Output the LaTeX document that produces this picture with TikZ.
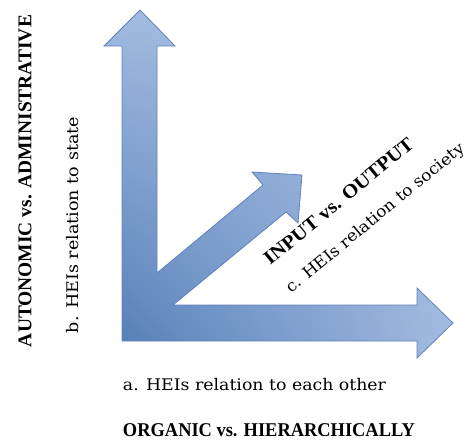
\documentclass[tikz,border=0pt]{standalone}
\usepackage{fontspec}
\usepackage{graphicx}
\setmainfont{Liberation Serif}
\newfontfamily\regfont{DejaVu Serif}
\usetikzlibrary{shadings}
\newcommand{\fitw}[2]{\resizebox{#1}{\height}{#2}}
\begin{document}
\begin{tikzpicture}[x=1pt,y=-1pt,
  lbl/.style={inner sep=0pt, font=\regfont\fontsize{16}{19}\selectfont},
  blbl/.style={inner sep=0pt, font=\fontsize{19.5}{23}\selectfont\bfseries}]
\definecolor{adark}{RGB}{79,122,181}
\definecolor{alight}{RGB}{163,187,224}
\definecolor{aline}{RGB}{96,130,190}
\useasboundingbox (0,0) rectangle (467,440);
\shadedraw[draw=aline, line width=0.8pt, line join=miter,
  lower left=adark, upper left=alight, lower right=alight, upper right=alight]
  (122,341) -- (417,341) -- (417,358) -- (453,323) -- (417,288) -- (417,305)
  -- (173,305) -- (286,212) -- (298,223) -- (302,175) -- (252,172) -- (263,185)
  -- (157,273) -- (157,46) -- (175,46) -- (140,10) -- (104,46) -- (122,46) -- cycle;
\node[blbl, rotate=90] (t1) at (25,181) {\fitw{332pt}{AUTONOMIC vs. ADMINISTRATIVE}};
\node[lbl, rotate=90] (t2) at (72.5,225) {\fitw{216pt}{b. HEIs relation to state}};
\node[lbl] (t3) at (254.5,385) {\fitw{263pt}{a. HEIs relation to each other}};
\node[blbl] (t4) at (269,430) {\fitw{292pt}{ORGANIC vs. HIERARCHICALLY}};
\node[blbl, rotate=39.5, anchor=base west] (t5) at (270,266) {\fitw{188pt}{INPUT vs. OUTPUT}};
\node[lbl, rotate=39.5, anchor=base west] (t6) at (291,294) {\fitw{226pt}{c. HEIs relation to society}};
\end{tikzpicture}
\end{document}
